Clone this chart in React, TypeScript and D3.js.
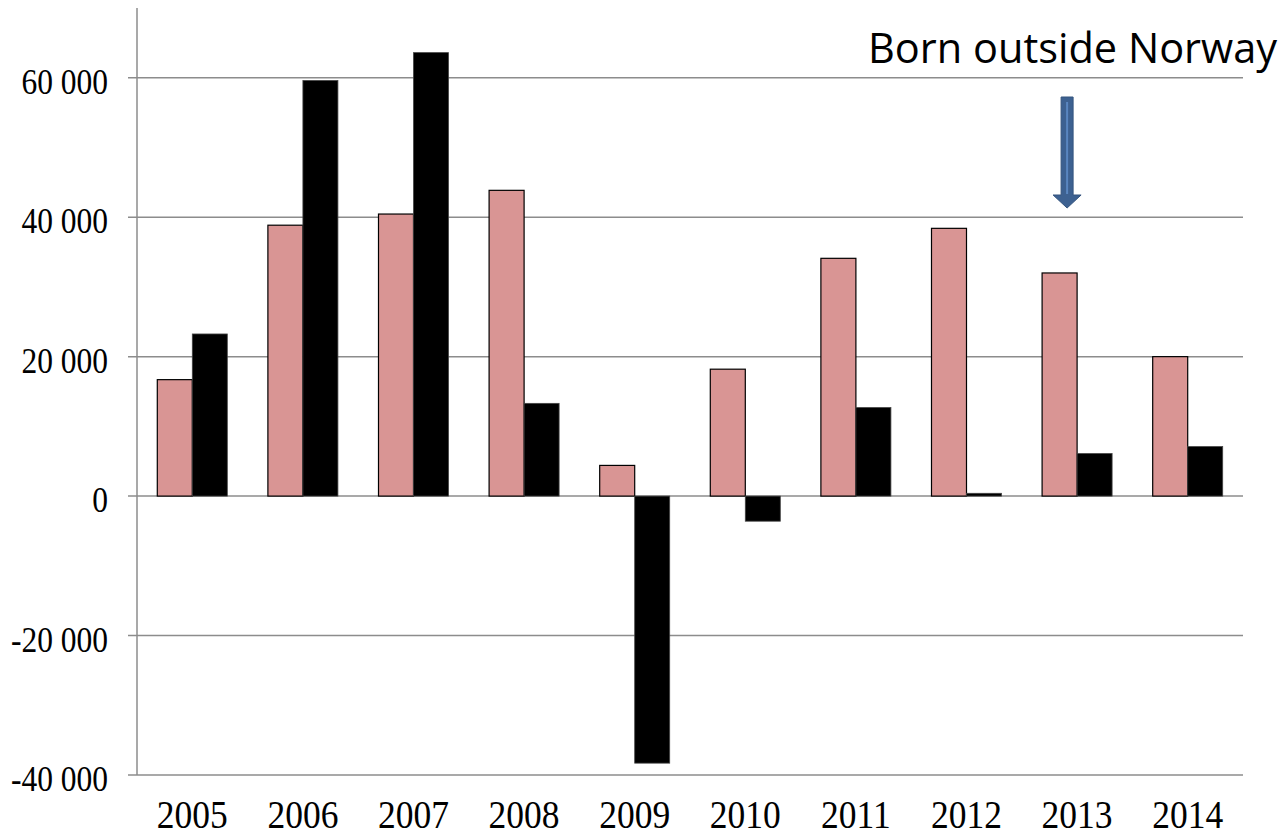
import { useEffect, useRef } from 'react'
import * as d3 from 'd3'

const years = ['2005', '2006', '2007', '2008', '2009', '2010', '2011', '2012', '2013', '2014']
const pinkValues = [16700, 38850, 40450, 43850, 4400, 18200, 34100, 38400, 32000, 20000]
const blackValues = [23250, 59600, 63600, 13300, -38300, -3600, 12700, 400, 6100, 7100]
const yTicks = [-40000, -20000, 0, 20000, 40000, 60000]
const annotation = 'Born outside Norway'
const annotationYear = '2013'

const width = 1285
const height = 837
const margin = { left: 137, right: 42, top: 8, bottom: 62 }

export default function App() {
  const svgRef = useRef<SVGSVGElement>(null)

  useEffect(() => {
    if (!svgRef.current) return
    const svg = d3.select(svgRef.current)
    svg.selectAll('*').remove()

    const x0 = margin.left
    const x1 = width - margin.right
    const yTop = margin.top
    const yBottom = height - margin.bottom

    const xScale = d3.scaleBand<string>()
      .domain(years)
      .range([x0, x1])
      .paddingInner(0.367)
      .paddingOuter(0.1835)

    const subScale = d3.scaleBand<string>()
      .domain(['pink', 'black'])
      .range([0, xScale.bandwidth()])

    const yScale = d3.scaleLinear()
      .domain([-40000, 70000])
      .range([yBottom, yTop])

    const fmt = d3.formatLocale({
      decimal: ',',
      thousands: ' ',
      grouping: [3],
      currency: ['', ''],
      minus: '-',
    }).format(',')

    // gridlines
    svg.append('g')
      .selectAll('line')
      .data(yTicks)
      .enter().append('line')
      .attr('x1', x0 - 9)
      .attr('x2', x1)
      .attr('y1', d => yScale(d))
      .attr('y2', d => yScale(d))
      .attr('stroke', '#8c8c8c')
      .attr('stroke-width', 1.5)

    // y axis line
    svg.append('line')
      .attr('x1', x0)
      .attr('x2', x0)
      .attr('y1', yTop)
      .attr('y2', yBottom)
      .attr('stroke', '#8c8c8c')
      .attr('stroke-width', 1.5)

    // y labels
    svg.append('g')
      .selectAll('text')
      .data(yTicks)
      .enter().append('text')
      .attr('transform', d => `translate(108,${yScale(d) + 16}) scale(1,1.12)`)
      .attr('text-anchor', 'end')
      .style('font-family', '"Liberation Serif", "Times New Roman", serif')
      .style('font-size', '31.5px')
      .style('fill', '#000')
      .text(d => fmt(d))

    // bars
    const groups = svg.append('g')
      .selectAll('g')
      .data(years)
      .enter().append('g')
      .attr('transform', d => `translate(${xScale(d)},0)`)

    groups.append('rect')
      .attr('x', subScale('pink')!)
      .attr('width', subScale.bandwidth())
      .attr('y', (_, i) => yScale(Math.max(0, pinkValues[i])))
      .attr('height', (_, i) => Math.abs(yScale(pinkValues[i]) - yScale(0)))
      .attr('fill', '#d99594')
      .attr('stroke', '#000')
      .attr('stroke-width', 1.2)

    groups.append('rect')
      .attr('x', subScale('black')!)
      .attr('width', subScale.bandwidth())
      .attr('y', (_, i) => yScale(Math.max(0, blackValues[i])))
      .attr('height', (_, i) => Math.abs(yScale(blackValues[i]) - yScale(0)))
      .attr('fill', '#000')
      .attr('stroke', '#444')
      .attr('stroke-width', 0.8)

    // x labels
    svg.append('g')
      .selectAll('text')
      .data(years)
      .enter().append('text')
      .attr('transform', d => `translate(${xScale(d)! + xScale.bandwidth() / 2},828) scale(1,1.12)`)
      .attr('text-anchor', 'middle')
      .style('font-family', '"Liberation Serif", "Times New Roman", serif')
      .style('font-size', '35.5px')
      .style('fill', '#000')
      .text(d => d)

    // annotation
    svg.append('text')
      .attr('x', 868)
      .attr('y', 63)
      .style('font-family', '"Open Sans", sans-serif')
      .style('font-size', '41.5px')
      .style('fill', '#000')
      .text(annotation)

    // arrow sits slightly left of the 2013 band centre
    const ax = xScale(annotationYear)! + xScale.bandwidth() / 2 - 10
    const arrowTop = 97
    const headTop = 195
    const tip = 208
    svg.append('path')
      .attr('d', `M${ax - 6},${arrowTop} L${ax + 6},${arrowTop} L${ax + 6},${headTop} L${ax + 14},${headTop} L${ax},${tip} L${ax - 14},${headTop} L${ax - 6},${headTop} Z`)
      .attr('fill', '#3d6191')
      .attr('stroke', '#35557f')
      .attr('stroke-width', 1)
    svg.append('line')
      .attr('x1', ax)
      .attr('x2', ax)
      .attr('y1', arrowTop + 5)
      .attr('y2', headTop - 1)
      .attr('stroke', '#5a86c0')
      .attr('stroke-width', 2)
  }, [])

  return (
    <svg
      ref={svgRef}
      width={width}
      height={height}
      style={{ position: 'absolute', left: 0, top: 0, background: '#fff' }}
    />
  )
}
